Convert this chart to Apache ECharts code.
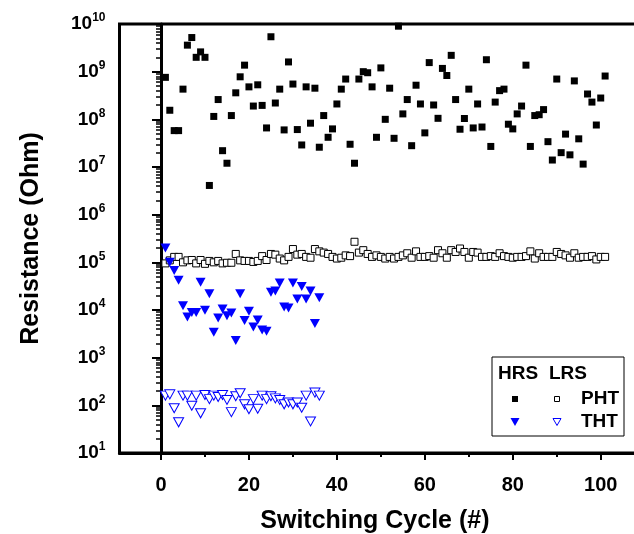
<!DOCTYPE html>
<html>
<head>
<meta charset="utf-8">
<script src="https://cdn.jsdelivr.net/npm/echarts@6/dist/echarts.min.js"></script>
<style>
  html, body { margin: 0; padding: 0; background: #fff; }
  #cnv { width: 634px; height: 534px; }
</style>
</head>
<body>
<div id="cnv"></div>
<script>
// values, cycle number = position + 1
var phtHrs = [7.6e8, 1.55e8, 5.8e7, 5.8e7, 4.3e8, 3.6e9, 5.2e9, 2.0e9, 2.6e9, 2.0e9,
  4.1e6, 1.15e8, 2.6e8, 2.2e7, 1.2e7, 1.2e8, 3.6e8, 7.8e8, 1.37e9, 4.8e8,
  1.9e8, 5.3e8, 1.96e8, 6.6e7, 5.4e9, 2.2e8, 4.3e8, 6.0e7, 1.6e9, 5.5e8,
  6.1e7, 2.9e7, 4.8e8, 8.3e7, 4.5e8, 2.6e7, 1.2e8, 4.2e7, 6.3e7, 2.1e8,
  4.3e8, 7.0e8, 3.0e7, 1.2e7, 7.0e8, 1.0e9, 9.5e8, 4.8e8, 4.2e7, 1.2e9,
  1.0e8, 4.5e8, 4.0e7, 9.0e9, 1.3e8, 2.6e8, 2.8e7, 5.2e8, 2.1e8, 5.2e7,
  1.55e9, 2.0e8, 1.05e8, 1.17e9, 8.3e8, 2.2e9, 2.6e8, 6.2e7, 1.04e8, 4.3e8,
  6.6e7, 2.1e8, 6.9e7, 1.78e9, 2.7e7, 2.3e8, 4.0e8, 4.3e8, 7.9e7, 6.3e7,
  1.3e8, 1.9e8, 1.37e9, 2.7e7, 1.2e8, 1.25e8, 1.6e8, 3.4e7, 1.4e7, 7.0e8,
  2.0e7, 4.9e7, 1.8e7, 6.4e8, 3.9e7, 1.15e7, 3.4e8, 2.3e8, 7.6e7, 2.8e8, 8.1e8];
var phtLrs = [0.95e5, 1.1e5, 1.3e5, 1.3e5, 1.0e5, 1.1e5, 1.12e5, 0.95e5, 1.12e5, 0.93e5,
  1.07e5, 1.0e5, 1.07e5, 0.95e5, 0.98e5, 0.98e5, 1.5e5, 1.1e5, 1.07e5, 1.07e5,
  1.02e5, 1.07e5, 1.35e5, 1.12e5, 1.5e5, 1.45e5, 1.2e5, 1.1e5, 1.3e5, 1.9e5,
  1.45e5, 1.5e5, 1.3e5, 1.25e5, 1.9e5, 1.7e5, 1.6e5, 1.5e5, 1.3e5, 1.2e5,
  1.25e5, 1.4e5, 1.35e5, 2.7e5, 1.6e5, 1.8e5, 1.5e5, 1.3e5, 1.4e5, 1.3e5,
  1.2e5, 1.3e5, 1.2e5, 1.3e5, 1.4e5, 1.55e5, 1.25e5, 1.7e5, 1.3e5, 1.3e5,
  1.35e5, 1.25e5, 1.8e5, 1.55e5, 1.25e5, 1.8e5, 1.65e5, 1.95e5, 1.65e5, 1.25e5,
  1.65e5, 1.6e5, 1.3e5, 1.3e5, 1.35e5, 1.3e5, 1.55e5, 1.35e5, 1.3e5, 1.25e5,
  1.3e5, 1.3e5, 1.35e5, 1.7e5, 1.2e5, 1.55e5, 1.3e5, 1.3e5, 1.3e5, 1.65e5,
  1.5e5, 1.4e5, 1.25e5, 1.55e5, 1.25e5, 1.3e5, 1.3e5, 1.35e5, 1.15e5, 1.3e5, 1.3e5];
var thtHrs = [2.0e5, 1.0e5, 6.7e4, 4.2e4, 1.23e4, 7.1e3, 8.9e3, 8.9e3, 3.8e4, 9.9e3,
  2.2e4, 3.4e3, 6.8e3, 1.05e4, 7.6e3, 8.6e3, 2.3e3, 2.2e4, 6.0e3, 9.4e3,
  4.4e3, 6.2e3, 3.8e3, 3.6e3, 2.35e4, 2.5e4, 3.7e4, 1.15e4, 1.1e4, 3.7e4,
  1.7e4, 3.1e4, 1.7e4, 2.5e4, 5.2e3, 1.8e4];
var thtLrs = [160, 170, 87, 44, 160, 160, 98, 160, 68, 165,
  135, 160, 150, 165, 130, 72, 155, 180, 105, 83,
  135, 85, 160, 135, 155, 140, 130, 105, 115, 105,
  115, 89, 160, 46, 185, 160];

var xTicks = [0, 20, 40, 60, 80, 100];
var xMinorTicks = [10, 30, 50, 70, 90];
var yTicks = [1e1, 1e2, 1e3, 1e4, 1e5, 1e6, 1e7, 1e8, 1e9, 1e10];

function toPoints(arr) {
  return arr.map(function (v, i) { return [i + 1, v]; });
}
// minor log ticks 2..9 inside each decade
var yMinorTicks = [];
for (var d = 0; d < yTicks.length - 1; d++) {
  for (var m = 2; m <= 9; m++) yMinorTicks.push(m * yTicks[d]);
}

var FONT = '"Liberation Sans", Arial, sans-serif';
var xMin = -9.44, xMax = 109.0;

var main = document.getElementById('cnv');
var myechart = echarts.init(main, null, { renderer: 'canvas' });
var option = {
  backgroundColor: '#fff',
  animation: false,
  // plot runs off the right edge of the picture, so no right spine shows
  grid: { left: 119.5, top: 24, width: 520.8, bottom: 81, outerBoundsMode: 'none', containLabel: false,
    show: true, borderColor: '#000', borderWidth: 3 },
  xAxis: [{
    type: 'value', min: xMin, max: xMax, position: 'bottom',
    splitLine: { show: false },
    axisLine: { lineStyle: { color: '#000', width: 3 } },
    axisTick: { customValues: xTicks, length: 7, inside: false, lineStyle: { color: '#000', width: 2 } },
    axisLabel: { customValues: xTicks, margin: 22, color: '#000', fontFamily: FONT, fontWeight: 'bold', fontSize: 20 },
    name: 'Switching Cycle (#)', nameLocation: 'middle', nameGap: 56,
    nameTextStyle: { color: '#000', fontFamily: FONT, fontWeight: 'bold', fontSize: 25, padding: [0, 10, 0, 0] }
  }, {
    type: 'value', min: xMin, max: xMax, position: 'bottom',
    splitLine: { show: false }, axisLine: { show: false }, axisLabel: { show: false },
    axisTick: { customValues: xMinorTicks, length: 4, lineStyle: { color: '#000', width: 2 } }
  }],
  yAxis: [{
    type: 'log', logBase: 10, min: 10, max: 1e10,
    splitLine: { show: false },
    axisLine: { lineStyle: { color: '#000', width: 3 } },
    axisTick: { customValues: yTicks, length: 9, lineStyle: { color: '#000', width: 2 } },
    axisLabel: {
      customValues: yTicks, margin: 14, color: '#000',
      formatter: function (v) {
        return '{b|10}{s|' + Math.round(Math.log10(v)) + '}';
      },
      rich: {
        b: { fontFamily: FONT, fontWeight: 'bold', fontSize: 19, color: '#000' },
        s: { fontFamily: FONT, fontWeight: 'bold', fontSize: 12, color: '#000', padding: [0, 0, 12, 0] }
      }
    },
    name: 'Resistance (Ohm)', nameLocation: 'middle', nameGap: 76,
    nameTextStyle: { color: '#000', fontFamily: FONT, fontWeight: 'bold', fontSize: 25 }
  }, {
    type: 'log', logBase: 10, min: 10, max: 1e10, position: 'left',
    splitLine: { show: false }, axisLine: { show: false }, axisLabel: { show: false },
    axisTick: { customValues: yMinorTicks, length: 5, lineStyle: { color: '#000', width: 1.5 } }
  }],
  series: [
    { name: 'PHT HRS', type: 'scatter', data: toPoints(phtHrs), symbol: 'rect', symbolSize: 7,
      itemStyle: { color: '#000', opacity: 1 } },
    { name: 'PHT LRS', type: 'scatter', data: toPoints(phtLrs), symbol: 'rect', symbolSize: 7,
      itemStyle: { color: '#fff', borderColor: '#000', borderWidth: 1, opacity: 1 } },
    { name: 'THT HRS', type: 'scatter', data: toPoints(thtHrs), symbol: 'triangle', symbolRotate: 180, symbolSize: [10, 9],
      itemStyle: { color: '#0000ff', opacity: 1 } },
    { name: 'THT LRS', type: 'scatter', data: toPoints(thtLrs), symbol: 'triangle', symbolRotate: 180, symbolSize: [10, 9],
      itemStyle: { color: '#fff', borderColor: '#0000ff', borderWidth: 1, opacity: 1 } }
  ],
  graphic: [
    { type: 'rect', shape: { x: 492, y: 357, width: 132, height: 79 }, style: { fill: '#fff', stroke: '#000', lineWidth: 1 }, z: 100 },
    { type: 'text', x: 498, y: 374, style: { text: 'HRS', font: 'bold 19px ' + FONT, fill: '#000', verticalAlign: 'middle' }, z: 101 },
    { type: 'text', x: 549, y: 374, style: { text: 'LRS', font: 'bold 19px ' + FONT, fill: '#000', verticalAlign: 'middle' }, z: 101 },
    { type: 'text', x: 581, y: 399, style: { text: 'PHT', font: 'bold 19px ' + FONT, fill: '#000', verticalAlign: 'middle' }, z: 101 },
    { type: 'text', x: 581, y: 422, style: { text: 'THT', font: 'bold 19px ' + FONT, fill: '#000', verticalAlign: 'middle' }, z: 101 },
    { type: 'rect', shape: { x: 512, y: 396, width: 6, height: 6 }, style: { fill: '#000' }, z: 101 },
    { type: 'rect', shape: { x: 554.5, y: 396.5, width: 5, height: 5 }, style: { fill: '#fff', stroke: '#000', lineWidth: 1 }, z: 101 },
    { type: 'polygon', shape: { points: [[510.5, 418], [519.5, 418], [515, 426]] }, style: { fill: '#0000ff' }, z: 101 },
    { type: 'polygon', shape: { points: [[553, 418.5], [561, 418.5], [557, 425.5]] }, style: { fill: '#fff', stroke: '#0000ff', lineWidth: 1 }, z: 101 }
  ]
};
myechart.setOption(option);
</script>
</body>
</html>
